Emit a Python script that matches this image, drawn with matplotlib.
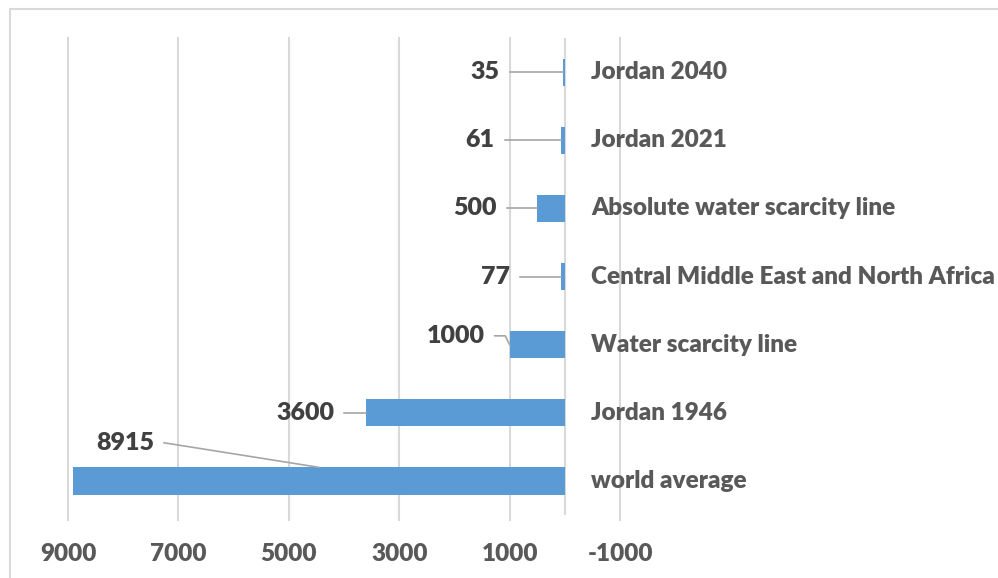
import matplotlib.pyplot as plt
from matplotlib.patches import Rectangle

# per-capita water share (m3/year), bottom to top
categories = ["world average", "Jordan 1946", "Water scarcity line",
              "Central Middle East and North Africa", "Absolute water scarcity line",
              "Jordan 2021", "Jordan 2040"]
values = [8915, 3600, 1000, 77, 500, 61, 35]
ticks = [9000, 7000, 5000, 3000, 1000, -1000]

bar_color = "#5B9BD5"
grid_color = "#D9D9D9"
text_color = "#595959"
label_color = "#404040"
weight = 'heavy'

plt.rcParams['font.family'] = ['Lato', 'DejaVu Sans']

fig = plt.figure(figsize=(9.98, 5.78), dpi=100)
ax = fig.add_axes([0.0681, 0.109, 0.5532, 0.825])

y = list(range(len(categories)))
ax.barh(y, values, height=0.4, color=bar_color, zorder=3)

ax.set_xlim(9000, -1000)
ax.set_ylim(-0.5, len(categories) - 0.5)
ax.set_xticks(ticks)
ax.set_xticklabels([str(t) for t in ticks], color=text_color, fontsize=17.5, fontweight=weight)
ax.tick_params(axis='x', length=0, pad=20)
ax.set_yticks([])
for x in ticks:
    ax.axvline(x, ymin=-0.01, ymax=1, color=grid_color, lw=1.5, zorder=1, clip_on=False)
ax.axvline(0, color=grid_color, lw=1.5, zorder=2)
for s in ax.spines.values():
    s.set_visible(False)

# category names to the right of the zero line
for yi, name in zip(y, categories):
    ax.text(-480, yi, name, ha='left', va='center', fontsize=17.5,
            fontweight=weight, color=text_color, clip_on=False)

# data labels with leader lines: (line start x, line start y offset)
leader_start = [(7260, 0.56), (4000, 0.0), (1270, 0.13), (815, 0.0),
                (1050, 0.0), (1090, 0.0), (1000, 0.0)]
for yi, v, (sx, dy) in zip(y, values, leader_start):
    ly = yi + dy
    if v > 5000:
        tx, ty = v / 2, yi + 0.2
        ax.plot([sx, tx], [ly, ty], color="#A6A6A6", lw=1.2, zorder=4)
    elif dy:
        ax.plot([sx, v + 80, v], [ly, ly, yi], color="#A6A6A6", lw=1.2, zorder=4)
    else:
        ax.plot([sx, v], [ly, ly], color="#A6A6A6", lw=1.2, zorder=4)
    ax.text(sx + 180, ly, str(v), ha='right', va='center', fontsize=18,
            fontweight=weight, color=label_color)

# chart border
fig.patches.append(Rectangle((10 / 998, -0.05), 1.1, 1 - 9 / 578 + 0.05,
                             transform=fig.transFigure, fill=False,
                             edgecolor=grid_color, lw=1.5))

fig.savefig("out.png", dpi=100)
